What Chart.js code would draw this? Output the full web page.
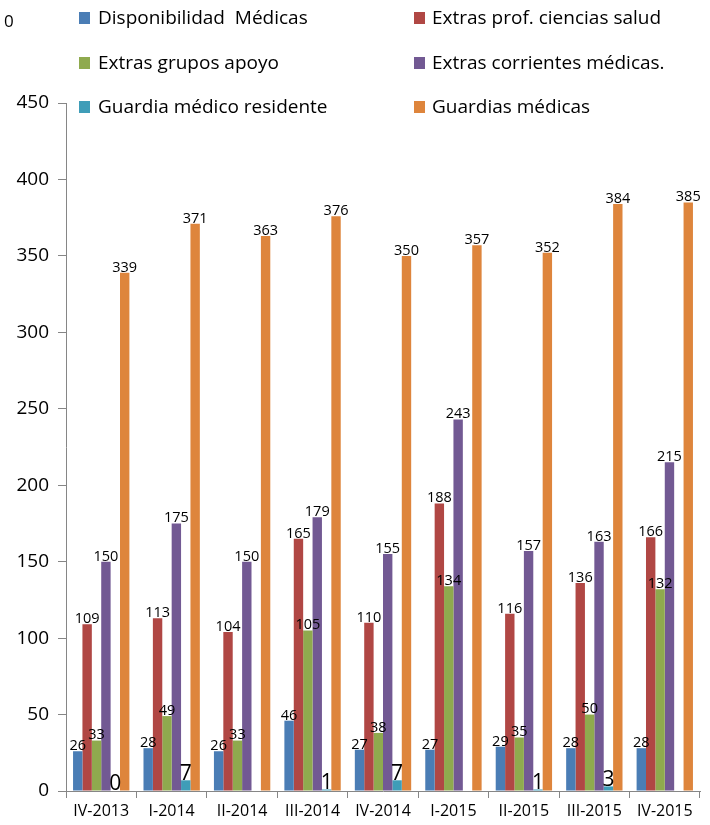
<!DOCTYPE html>
<html>
<head>
<meta charset="utf-8">
<script src="https://cdn.jsdelivr.net/npm/chart.js@4"></script>
<style>
  body { margin: 0; background: #fff; font-family: "Open Sans", sans-serif; }
  #wrap { position: relative; width: 710px; height: 825px; }
  #legend { position: absolute; left: 0; top: 0; width: 710px; height: 130px; pointer-events: none; }
  .item { position: absolute; font-size: 19px; color: #000; white-space: pre; line-height: 20px; }
  .box { position: absolute; width: 11px; height: 12px; }
  #corner { position: absolute; left: 4px; top: 9px; font-size: 17px; }
</style>
</head>
<body>
<div id="wrap">
  <canvas id="barras" width="710" height="825"></canvas>
  <div id="legend"></div>
  <div id="corner">0</div>
</div>
<script>
var trimestres = ['IV-2013', 'I-2014', 'II-2014', 'III-2014', 'IV-2014', 'I-2015', 'II-2015', 'III-2015', 'IV-2015'];

var disponibilidad = [26, 28, 26, 46, 27, 27, 29, 28, 28];
var extrasProf = [109, 113, 104, 165, 110, 188, 116, 136, 166];
var extrasApoyo = [33, 49, 33, 105, 38, 134, 35, 50, 132];
var extrasCorrientes = [150, 175, 150, 179, 155, 243, 157, 163, 215];
var guardiaResidente = [0, 7, null, 1, 7, null, 1, 3, null];
var guardiasMedicas = [339, 371, 363, 376, 350, 357, 352, 384, 385];

var nombres = ['Disponibilidad  Médicas', 'Extras prof. ciencias salud', 'Extras grupos apoyo',
               'Extras corrientes médicas.', 'Guardia médico residente', 'Guardias médicas'];
var colores = ['#4A7DB5', '#B04744', '#8FAA4E', '#725993', '#3F9DB8', '#DE853C'];
var series = [disponibilidad, extrasProf, extrasApoyo, extrasCorrientes, guardiaResidente, guardiasMedicas];

// legend, two columns
var legend = document.getElementById('legend');
var filas = [18, 63, 107];
var cols = [[79, 98], [414, 432]];
nombres.forEach(function (n, i) {
  var c = cols[i % 2], y = filas[Math.floor(i / 2)];
  var b = document.createElement('div');
  b.className = 'box';
  b.style.left = c[0] + 'px';
  b.style.top = (y - 6) + 'px';
  b.style.background = colores[i];
  legend.appendChild(b);
  var t = document.createElement('div');
  t.className = 'item';
  t.style.left = c[1] + 'px';
  t.style.top = (y - 11) + 'px';
  t.textContent = n;
  legend.appendChild(t);
});

// value labels on top of each bar
var etiquetas = {
  id: 'etiquetas',
  afterDatasetsDraw: function (chart) {
    var ctx = chart.ctx;
    ctx.save();
    ctx.fillStyle = '#000';
    ctx.textAlign = 'center';
    ctx.textBaseline = 'bottom';
    chart.data.datasets.forEach(function (ds, i) {
      var meta = chart.getDatasetMeta(i);
      ctx.font = (i === 4 ? '21px' : '14.5px') + ' "Open Sans"';
      meta.data.forEach(function (bar, j) {
        var v = ds.data[j];
        if (v === null) return;
        ctx.fillText(String(v), bar.x, bar.y + (i === 4 ? 4 : 2));
      });
    });
    ctx.restore();
  }
};

var ctx = document.getElementById('barras').getContext('2d');
new Chart(ctx, {
  type: 'bar',
  data: {
    labels: trimestres,
    datasets: series.map(function (d, i) {
      return {
        label: nombres[i],
        data: d,
        backgroundColor: colores[i],
        borderWidth: 0,
        categoryPercentage: 0.8,
        barPercentage: 1.0
      };
    })
  },
  options: {
    responsive: false,
    animation: false,
    layout: { padding: { top: 103, right: 10, left: 0, bottom: 0 } },
    plugins: { legend: { display: false }, tooltip: { enabled: false } },
    scales: {
      y: {
        min: 0,
        max: 450,
        ticks: { stepSize: 50, color: '#000', padding: 9, font: { family: 'Open Sans', size: 19 } },
        grid: { drawOnChartArea: false, tickLength: 8, color: '#868686' },
        border: { color: '#868686' },
        afterFit: function (s) { s.width = 66; }
      },
      x: {
        ticks: { color: '#000', padding: 4, font: { family: 'Open Sans', size: 16 } },
        grid: { offset: true, drawOnChartArea: false, tickLength: 7, color: '#868686' },
        border: { color: '#868686' },
        afterFit: function (s) { s.height = 34; }
      }
    }
  },
  plugins: [etiquetas]
});
</script>
</body>
</html>
